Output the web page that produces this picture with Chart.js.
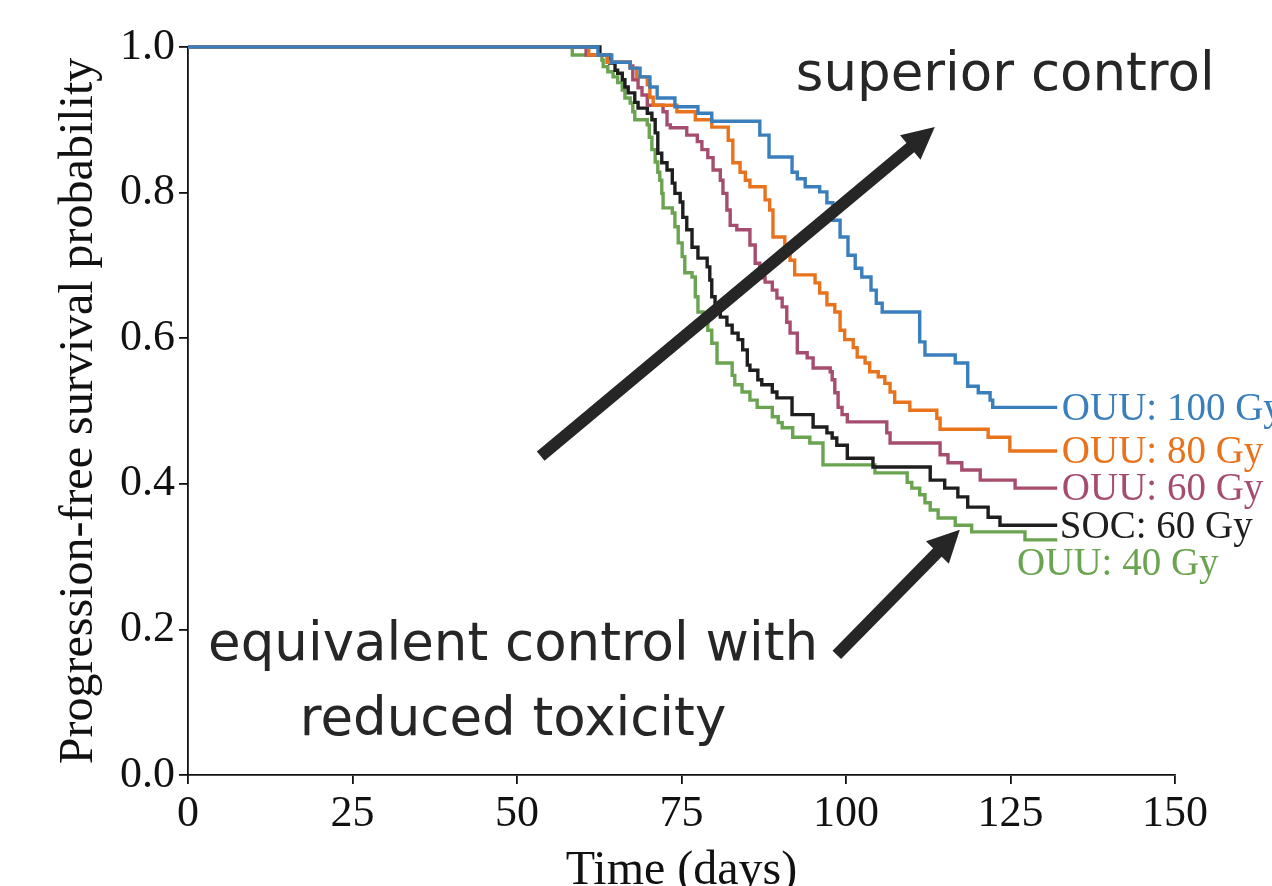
<!DOCTYPE html>
<html>
<head>
<meta charset="utf-8">
<title>PFS curves</title>
<script src="https://cdn.jsdelivr.net/npm/chart.js@4"></script>
<style>
  html, body { margin: 0; padding: 0; background: #fff; }
  #wrap { width: 1272px; height: 886px; }
</style>
</head>
<body>
<div id="wrap"><canvas id="chart" width="1272" height="886"></canvas></div>
<script>
// Kaplan-Meier style step curves (time in days, survival prob.)
const t100 = [0, 62.3, 64.4, 67.2, 68.7, 70.2, 71.3, 74.0, 77.5, 79.6, 86.9, 88.3, 91.8, 92.6, 93.8, 96.0, 97.1, 98.0, 99.1, 100.3, 101.4, 102.4, 103.8, 104.6, 105.5, 111.2, 112.0, 116.6, 118.5, 120.1, 121.9, 122.3, 132.1];
const s100 = [1.0, 0.989, 0.979, 0.971, 0.959, 0.945, 0.930, 0.918, 0.909, 0.898, 0.879, 0.849, 0.828, 0.819, 0.808, 0.801, 0.786, 0.762, 0.739, 0.714, 0.696, 0.684, 0.666, 0.648, 0.636, 0.595, 0.577, 0.566, 0.534, 0.525, 0.515, 0.505, 0.505];

const t80 = [0, 60.9, 63.8, 67.2, 68.2, 69.8, 70.2, 70.7, 74.3, 77.1, 79.6, 82.1, 82.8, 83.9, 84.7, 85.4, 87.7, 88.4, 88.9, 90.7, 91.5, 92.2, 95.3, 96.0, 97.1, 98.3, 99.1, 99.8, 101.1, 101.7, 102.9, 103.6, 104.9, 105.9, 106.7, 107.4, 109.7, 113.8, 114.3, 121.6, 124.9, 132.1];
const s80 = [1.0, 0.989, 0.979, 0.971, 0.959, 0.948, 0.931, 0.920, 0.911, 0.900, 0.890, 0.872, 0.841, 0.828, 0.817, 0.808, 0.790, 0.776, 0.739, 0.728, 0.707, 0.687, 0.676, 0.662, 0.646, 0.636, 0.611, 0.598, 0.587, 0.574, 0.566, 0.554, 0.547, 0.538, 0.526, 0.512, 0.501, 0.490, 0.475, 0.464, 0.445, 0.445];

const t60 = [0, 60.5, 63.7, 67.2, 67.6, 68.4, 69.0, 69.8, 72.2, 72.8, 73.3, 75.8, 77.4, 78.1, 79.0, 79.8, 80.9, 81.3, 81.9, 82.4, 83.4, 85.4, 86.2, 86.9, 87.7, 88.8, 89.5, 90.3, 91.0, 91.5, 92.6, 94.1, 95.0, 97.6, 97.9, 98.3, 98.8, 99.4, 100.2, 106.2, 106.7, 114.3, 115.5, 117.6, 120.4, 125.7, 132.1];
const s60 = [1.0, 0.989, 0.979, 0.974, 0.955, 0.944, 0.934, 0.920, 0.911, 0.893, 0.889, 0.879, 0.870, 0.859, 0.848, 0.831, 0.817, 0.799, 0.776, 0.755, 0.749, 0.728, 0.703, 0.683, 0.677, 0.666, 0.655, 0.643, 0.622, 0.607, 0.580, 0.573, 0.559, 0.554, 0.543, 0.525, 0.505, 0.495, 0.485, 0.470, 0.456, 0.440, 0.429, 0.419, 0.405, 0.394, 0.394];

const tSoc = [0, 62.6, 64.1, 64.9, 65.3, 66.0, 66.4, 66.9, 67.9, 68.4, 69.8, 70.5, 71.0, 71.4, 72.0, 72.8, 73.6, 74.0, 74.8, 75.2, 75.8, 76.6, 77.5, 78.9, 79.3, 79.6, 80.1, 80.9, 81.9, 82.7, 83.6, 84.3, 85.0, 85.4, 86.6, 87.2, 88.8, 89.5, 91.8, 95.0, 97.1, 97.9, 98.6, 100.2, 104.1, 112.8, 115.0, 117.0, 118.5, 121.6, 123.4, 132.1];
const sSoc = [1.0, 0.989, 0.978, 0.968, 0.964, 0.955, 0.945, 0.937, 0.924, 0.916, 0.909, 0.900, 0.882, 0.854, 0.841, 0.831, 0.813, 0.799, 0.787, 0.766, 0.749, 0.725, 0.710, 0.698, 0.680, 0.657, 0.636, 0.629, 0.618, 0.607, 0.598, 0.584, 0.563, 0.556, 0.543, 0.536, 0.526, 0.518, 0.495, 0.478, 0.470, 0.463, 0.453, 0.435, 0.423, 0.405, 0.394, 0.382, 0.368, 0.354, 0.343, 0.343];

const t40 = [0, 58.4, 62.9, 63.1, 63.8, 64.6, 65.3, 66.0, 66.4, 67.2, 67.6, 67.9, 69.8, 70.1, 70.5, 71.0, 71.4, 71.7, 72.0, 72.2, 73.6, 74.0, 74.5, 75.1, 75.5, 76.6, 77.1, 77.5, 78.3, 79.0, 79.6, 80.4, 82.7, 83.1, 84.2, 85.4, 86.5, 88.8, 89.7, 90.3, 91.9, 94.5, 96.5, 104.4, 109.3, 110.0, 111.2, 112.0, 112.8, 114.0, 116.6, 119.1, 127.2, 132.1];
const s40 = [1.0, 0.989, 0.982, 0.973, 0.966, 0.959, 0.951, 0.941, 0.930, 0.923, 0.911, 0.900, 0.893, 0.876, 0.859, 0.842, 0.828, 0.817, 0.799, 0.779, 0.772, 0.753, 0.731, 0.712, 0.690, 0.684, 0.657, 0.636, 0.621, 0.611, 0.593, 0.566, 0.549, 0.536, 0.526, 0.515, 0.505, 0.492, 0.484, 0.477, 0.464, 0.456, 0.426, 0.415, 0.402, 0.394, 0.385, 0.374, 0.364, 0.353, 0.343, 0.334, 0.323, 0.323];

const seriesNames = ['OUU: 100 Gy', 'OUU: 80 Gy', 'OUU: 60 Gy', 'SOC: 60 Gy', 'OUU: 40 Gy'];
const seriesColors = ['#3a7fbc', '#e8731c', '#a64d6f', '#1e1e1e', '#6aa451'];
const xTicks = [0, 25, 50, 75, 100, 125, 150];
const yTicks = [0.0, 0.2, 0.4, 0.6, 0.8, 1.0];

const SERIF = '"Liberation Serif", "DejaVu Serif", serif';
const SANS = '"DejaVu Sans", "Noto Sans", sans-serif';
const INK = '#262626';

function toPoints(ts, ss) {
  return ts.map((t, i) => ({ x: t, y: ss[i] }));
}

const allT = [t100, t80, t60, tSoc, t40];
const allS = [s100, s80, s60, sSoc, s40];

const datasets = seriesNames.map((name, i) => ({
  label: name,
  data: toPoints(allT[i], allS[i]),
  borderColor: seriesColors[i],
  borderWidth: 3.4,
  stepped: true,
  pointRadius: 0,
  fill: false,
  clip: 6
}));

// end-of-curve labels: [x day, y prob, series index]
const endLabels = [
  [132.8, 0.505, 0],
  [132.8, 0.445, 1],
  [132.8, 0.394, 2],
  [132.5, 0.343, 3],
  [126.0, 0.291, 4]
];

// arrows in data coords: tail -> tip
const arrows = [
  [[53.6, 0.438], [113.5, 0.890]],
  [[98.6, 0.165], [117.3, 0.337]]
];

// annotation texts: [text, x day (centre), y prob (baseline)]
const notes = [
  ['superior control', 124.2, 0.941],
  ['equivalent control with', 49.4, 0.158],
  ['reduced toxicity', 49.4, 0.055]
];

const overlay = {
  id: 'overlay',
  afterDraw(chart) {
    const ctx = chart.ctx;
    const xs = chart.scales.x, ys = chart.scales.y;
    ctx.save();

    // arrows
    ctx.fillStyle = INK;
    ctx.strokeStyle = INK;
    arrows.forEach(([a, b]) => {
      const x0 = xs.getPixelForValue(a[0]), y0 = ys.getPixelForValue(a[1]);
      const x1 = xs.getPixelForValue(b[0]), y1 = ys.getPixelForValue(b[1]);
      const ang = Math.atan2(y1 - y0, x1 - x0);
      const headL = 32, headW = 16;
      const bx = x1 - headL * Math.cos(ang), by = y1 - headL * Math.sin(ang);
      ctx.lineWidth = 12;
      ctx.lineCap = 'butt';
      ctx.beginPath();
      ctx.moveTo(x0, y0);
      ctx.lineTo(bx + 2 * Math.cos(ang), by + 2 * Math.sin(ang));
      ctx.stroke();
      ctx.beginPath();
      ctx.moveTo(x1, y1);
      ctx.lineTo(bx + headW * Math.sin(ang), by - headW * Math.cos(ang));
      ctx.lineTo(bx - headW * Math.sin(ang), by + headW * Math.cos(ang));
      ctx.closePath();
      ctx.fill();
    });

    // annotation text
    ctx.font = '53px ' + SANS;
    ctx.textAlign = 'center';
    ctx.textBaseline = 'alphabetic';
    notes.forEach(([txt, x, y]) => {
      ctx.fillText(txt, xs.getPixelForValue(x), ys.getPixelForValue(y));
    });

    // curve end labels
    ctx.font = '39px ' + SERIF;
    ctx.textAlign = 'left';
    ctx.textBaseline = 'middle';
    endLabels.forEach(([x, y, i]) => {
      ctx.fillStyle = seriesColors[i];
      ctx.fillText(seriesNames[i], xs.getPixelForValue(x), ys.getPixelForValue(y) + 2);
    });

    // axis titles
    ctx.fillStyle = '#111';
    ctx.font = '48px ' + SERIF;
    ctx.textAlign = 'center';
    ctx.textBaseline = 'alphabetic';
    ctx.fillText('Time (days)', (xs.left + xs.right) / 2, 884);
    ctx.translate(92, (ys.top + ys.bottom) / 2);
    ctx.rotate(-Math.PI / 2);
    ctx.fillText('Progression-free survival probability', 0, 0);
    ctx.restore();
  }
};

new Chart(document.getElementById('chart'), {
  type: 'line',
  data: { datasets },
  plugins: [overlay],
  options: {
    responsive: false,
    animation: false,
    layout: { padding: { left: 0, right: 97, top: 47, bottom: 0 } },
    plugins: { legend: { display: false }, tooltip: { enabled: false } },
    scales: {
      x: {
        type: 'linear',
        min: 0,
        max: 150,
        afterFit(scale) { scale.height = 111; },
        afterBuildTicks(scale) { scale.ticks = xTicks.map(v => ({ value: v })); },
        border: { display: true, color: '#111', width: 1.8 },
        grid: { drawOnChartArea: false, drawTicks: true, tickLength: 9, color: '#111', lineWidth: 1.8 },
        ticks: { color: '#111', padding: 4, maxRotation: 0, font: { family: SERIF, size: 44 }, callback: v => String(v) }
      },
      y: {
        type: 'linear',
        min: 0,
        max: 1,
        afterFit(scale) { scale.width = 188; },
        afterBuildTicks(scale) { scale.ticks = yTicks.map(v => ({ value: v })); },
        border: { display: true, color: '#111', width: 1.8 },
        grid: { drawOnChartArea: false, drawTicks: true, tickLength: 9, color: '#111', lineWidth: 1.8 },
        ticks: { color: '#111', padding: 4, font: { family: SERIF, size: 44 }, callback: v => v.toFixed(1) }
      }
    }
  }
});
</script>
</body>
</html>
